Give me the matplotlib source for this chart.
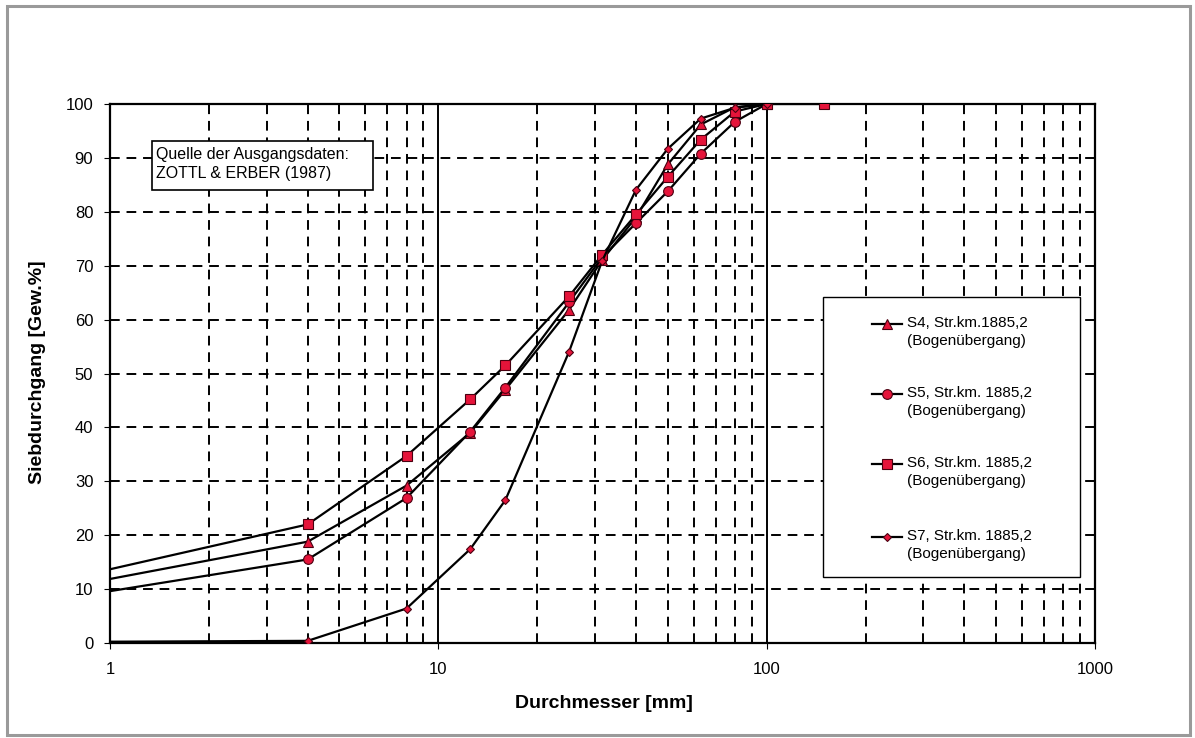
import matplotlib
matplotlib.use("Agg")
import matplotlib.pyplot as plt
from matplotlib.ticker import FixedLocator, NullFormatter, FixedFormatter
from matplotlib.patches import Rectangle
from matplotlib.lines import Line2D

plt.rcParams['font.family'] = ['Liberation Sans', 'DejaVu Sans']

# sieve sizes [mm]
sizes_s4 = [0.125, 4, 8, 12.5, 16, 25, 31.5, 40, 50, 63, 80, 100]
s4 = [1.5, 18.8, 29.2, 39.0, 47.0, 61.8, 71.0, 79.0, 88.8, 96.2, 99.4, 100]
sizes_s5 = [0.125, 4, 8, 12.5, 16, 25, 31.5, 40, 50, 63, 80, 100]
s5 = [0.8, 15.5, 26.9, 39.2, 47.4, 63.2, 71.5, 77.9, 83.8, 90.8, 96.7, 100]
sizes_s6 = [0.125, 4, 8, 12.5, 16, 25, 31.5, 40, 50, 63, 80, 100, 150]
s6 = [1.2, 22.0, 34.7, 45.2, 51.5, 64.3, 72.0, 79.5, 86.5, 93.4, 98.6, 100, 100]
sizes_s7 = [0.125, 4, 8, 12.5, 16, 25, 31.5, 40, 50, 63, 80, 100]
s7 = [0.0, 0.4, 6.4, 17.4, 26.5, 54.0, 70.8, 84.1, 91.7, 97.3, 99.3, 100]

labels = ["S4, Str.km.1885,2\n(Bogenübergang)",
          "S5, Str.km. 1885,2\n(Bogenübergang)",
          "S6, Str.km. 1885,2\n(Bogenübergang)",
          "S7, Str.km. 1885,2\n(Bogenübergang)"]

W, H = 1195, 738
fig = plt.figure(figsize=(W / 100, H / 100), dpi=100)
fig.patch.set_facecolor('white')
fig.add_artist(Rectangle((7 / W, 1 - 735 / H), (1190 - 7) / W, (735 - 6) / H,
                         transform=fig.transFigure, fill=False,
                         edgecolor='#9a9a9a', linewidth=2.2))

ax = fig.add_axes([110 / W, 1 - 643 / H, (1095 - 110) / W, (643 - 104) / H])
ax.set_xscale('log')
ax.set_xlim(1, 1000)
ax.set_ylim(0, 100)

# grid
dash = (0, (5, 3.5))
for dec in [1, 10, 100]:
    for m in range(2, 10):
        ax.axvline(dec * m, color='black', lw=1.4, linestyle=dash, zorder=1)
for xv in [10, 100]:
    ax.axvline(xv, color='black', lw=1.4, zorder=1)
for yv in range(10, 100, 10):
    ax.axhline(yv, color='black', lw=1.4, linestyle=dash, zorder=1)

fill = '#e5143a'
edge = '#4a0010'
series = [
    (sizes_s4, s4, '^', 7),
    (sizes_s5, s5, 'o', 7),
    (sizes_s6, s6, 's', 7.5),
    (sizes_s7, s7, 'D', 4.5),
]
styles = []
for (xs, ys, mk, ms), lab in zip(series, labels):
    st = dict(color='black', lw=1.6, marker=mk, markersize=ms,
              markerfacecolor=fill, markeredgecolor=edge, markeredgewidth=0.8)
    styles.append(st)
    ax.plot(xs, ys, zorder=3, label=lab, **st)

for sp in ax.spines.values():
    sp.set_linewidth(1.6)
    sp.set_color('black')

ax.xaxis.set_major_locator(FixedLocator([1, 10, 100, 1000]))
ax.xaxis.set_major_formatter(FixedFormatter(['1', '10', '100', '1000']))
ax.xaxis.set_minor_locator(FixedLocator([]))
ax.xaxis.set_minor_formatter(NullFormatter())
ax.set_yticks(range(0, 101, 10))
ax.tick_params(axis='both', direction='out', length=4, width=0.8,
               labelsize=12, colors='black')
ax.tick_params(axis='x', pad=10)
ax.tick_params(axis='y', pad=8)

fig.text(38 / W, 1 - 372 / H, 'Siebdurchgang [Gew.%]', rotation=90,
         ha='center', va='center', fontsize=14, fontweight='bold')
fig.text(604 / W, 1 - 703 / H, 'Durchmesser [mm]', ha='center', va='center',
         fontsize=14, fontweight='bold')

# source box
fig.add_artist(Rectangle((152 / W, 1 - 190 / H), (373 - 152) / W, (190 - 141) / H,
                         transform=fig.transFigure, facecolor='white',
                         edgecolor='black', linewidth=1.2, zorder=5))
fig.text(156 / W, 1 - 164 / H, 'Quelle der Ausgangsdaten:\nZOTTL & ERBER (1987)',
         ha='left', va='center', fontsize=11.5, linespacing=1.35, zorder=6)

# legend box (drawn manually)
fig.add_artist(Rectangle((823 / W, 1 - 577 / H), (1080 - 823) / W, (577 - 297) / H,
                         transform=fig.transFigure, facecolor='white',
                         edgecolor='black', linewidth=1.0, zorder=5))
leg_y = [324, 394, 464, 537]
for st, lab, yy in zip(styles, labels, leg_y):
    yf = 1 - yy / H
    ln = Line2D([872 / W, 902 / W], [yf, yf], transform=fig.transFigure,
                zorder=6, **{k: v for k, v in st.items() if k != 'marker'})
    fig.add_artist(ln)
    mk = Line2D([887 / W], [yf], transform=fig.transFigure, zorder=7,
                linestyle='none', **{k: v for k, v in st.items() if k not in ('lw',)})
    fig.add_artist(mk)
    fig.text(907 / W, 1 - (yy - 8) / H, lab, ha='left', va='top',
             fontsize=11, linespacing=1.4, zorder=7)

fig.savefig('out.png', dpi=100)
